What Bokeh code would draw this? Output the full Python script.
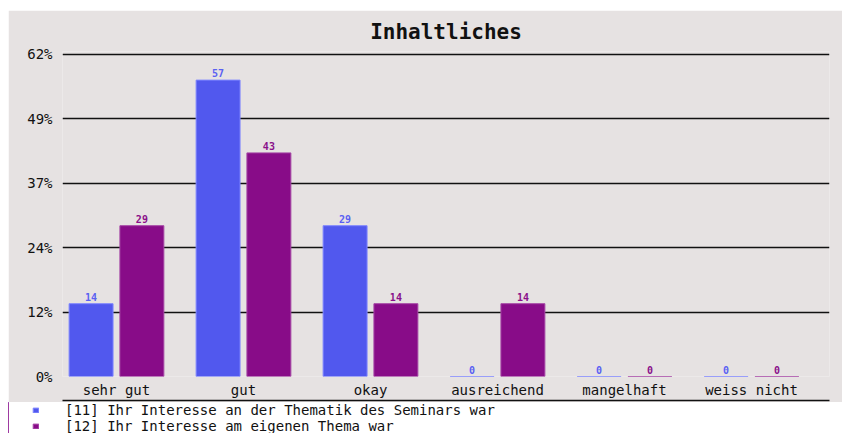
from bokeh.plotting import figure
from bokeh.models import (ColumnDataSource, FixedTicker, LinearAxis, Range1d,
                          Legend, LegendItem)
from bokeh.embed import file_html
from bokeh.resources import INLINE

categories = ["sehr gut", "gut", "okay", "ausreichend", "mangelhaft", "weiss nicht"]
series_names = ["[11] Ihr Interesse an der Thematik des Seminars war",
                "[12] Ihr Interesse am eigenen Thema war"]
values_11 = [14, 57, 29, 0, 0, 0]
values_12 = [29, 43, 14, 14, 0, 0]
y_ticks = [0, 12.4, 24.8, 37.2, 49.6, 62]
y_tick_labels = ["0%", "12%", "24%", "37%", "49%", "62%"]

fill_colors = ["#5158EE", "#880C88"]
line_colors = ["#7F86FF", "#A545A5"]
text_colors = ["#5A60F2", "#8A108A"]
BG = "#E6E2E2"
MONO = "DejaVu Sans Mono"

p = figure(width=834, height=392, output_backend="svg", toolbar_location=None,
           x_range=Range1d(-0.425, 5.614), y_range=Range1d(0, 62.5),
           background_fill_color=BG, border_fill_color=BG,
           min_border_left=54, min_border_right=13, min_border_top=40,
           min_border_bottom=26, outline_line_color=None,
           title="Inhaltliches", x_axis_location=None, y_axis_location=None)
p.margin = (10, 0, 0, 8)

p.title.align = "center"
p.title.text_font = MONO
p.title.text_font_size = "21px"
p.title.text_font_style = "bold"
p.title.text_color = "#111111"
p.title.standoff = 15

idx = list(range(len(categories)))
offsets = [-0.2, 0.2]
sources = []
for k, vals in enumerate([values_11, values_12]):
    xs = [i + offsets[k] for i in idx]
    src = ColumnDataSource(dict(x=xs, top=vals, label=[str(v) for v in vals]))
    sources.append(src)
    p.vbar(x="x", top="top", bottom=0, width=0.346, source=src,
           fill_color=fill_colors[k], line_color=line_colors[k], line_width=1)
    p.text(x="x", y="top", text="label", source=src, text_align="center",
           text_baseline="bottom", y_offset=-3, text_font_size="10px",
           text_font_style="bold", text_color=text_colors[k],
           text_font={"value": MONO})

# y axis
yaxis = LinearAxis(ticker=FixedTicker(ticks=y_ticks),
                   major_label_overrides={t: l for t, l in zip(y_ticks, y_tick_labels)})
yaxis.axis_line_color = None
yaxis.major_tick_line_color = None
yaxis.minor_tick_line_color = None
yaxis.major_tick_out = 0
yaxis.minor_tick_out = 0
yaxis.major_label_standoff = 10
yaxis.major_label_text_font = MONO
yaxis.major_label_text_font_size = "14px"
yaxis.major_label_text_color = "#111111"
p.add_layout(yaxis, "left")

p.ygrid.ticker = FixedTicker(ticks=y_ticks[1:])
p.ygrid.grid_line_color = "#111111"
p.ygrid.grid_line_width = 1.5
p.xgrid.grid_line_color = None

# x axis with category labels
xaxis = LinearAxis(ticker=FixedTicker(ticks=idx),
                   major_label_overrides={i: c for i, c in zip(idx, categories)})
xaxis.axis_line_color = None
xaxis.major_tick_line_color = None
xaxis.minor_tick_line_color = None
xaxis.major_tick_out = 0
xaxis.minor_tick_out = 0
xaxis.major_label_standoff = 5
xaxis.major_label_text_font = MONO
xaxis.major_label_text_font_size = "14px"
xaxis.major_label_text_color = "#111111"
p.add_layout(xaxis, "below")

# separator line below category labels
sep = LinearAxis(ticker=FixedTicker(ticks=[]))
sep.axis_line_color = "#111111"
sep.axis_line_width = 1.5
sep.major_tick_line_color = None
sep.minor_tick_line_color = None
sep.major_tick_out = 0
sep.minor_tick_out = 0
p.add_layout(sep, "below")

# legend strip (separate root so it is not frame-aligned with the chart)
p2 = figure(width=834, height=31, output_backend="svg", toolbar_location=None,
            x_range=Range1d(100, 101), y_range=Range1d(0, 1),
            background_fill_color=None, border_fill_color=BG, min_border=0,
            outline_line_color=None, x_axis_location=None, y_axis_location=None)
p2.margin = (0, 0, 0, 8)
p2.grid.visible = False
swatches = [p2.vbar(x="x", top="top", bottom=0, width=0.346, source=sources[k],
                    fill_color=fill_colors[k], line_color=line_colors[k])
            for k in range(2)]
legend = Legend(items=[LegendItem(label=series_names[k], renderers=[swatches[k]])
                       for k in range(2)],
                location=(24, -1), orientation="vertical",
                glyph_width=7, glyph_height=6, label_standoff=26,
                label_height=14, spacing=0, padding=0, margin=0,
                label_text_font=MONO, label_text_font_size="14px",
                label_text_color="#111111", background_fill_alpha=0,
                border_line_color=None)
p2.add_layout(legend)

open("out.html", "w").write(file_html([p, p2], INLINE))
